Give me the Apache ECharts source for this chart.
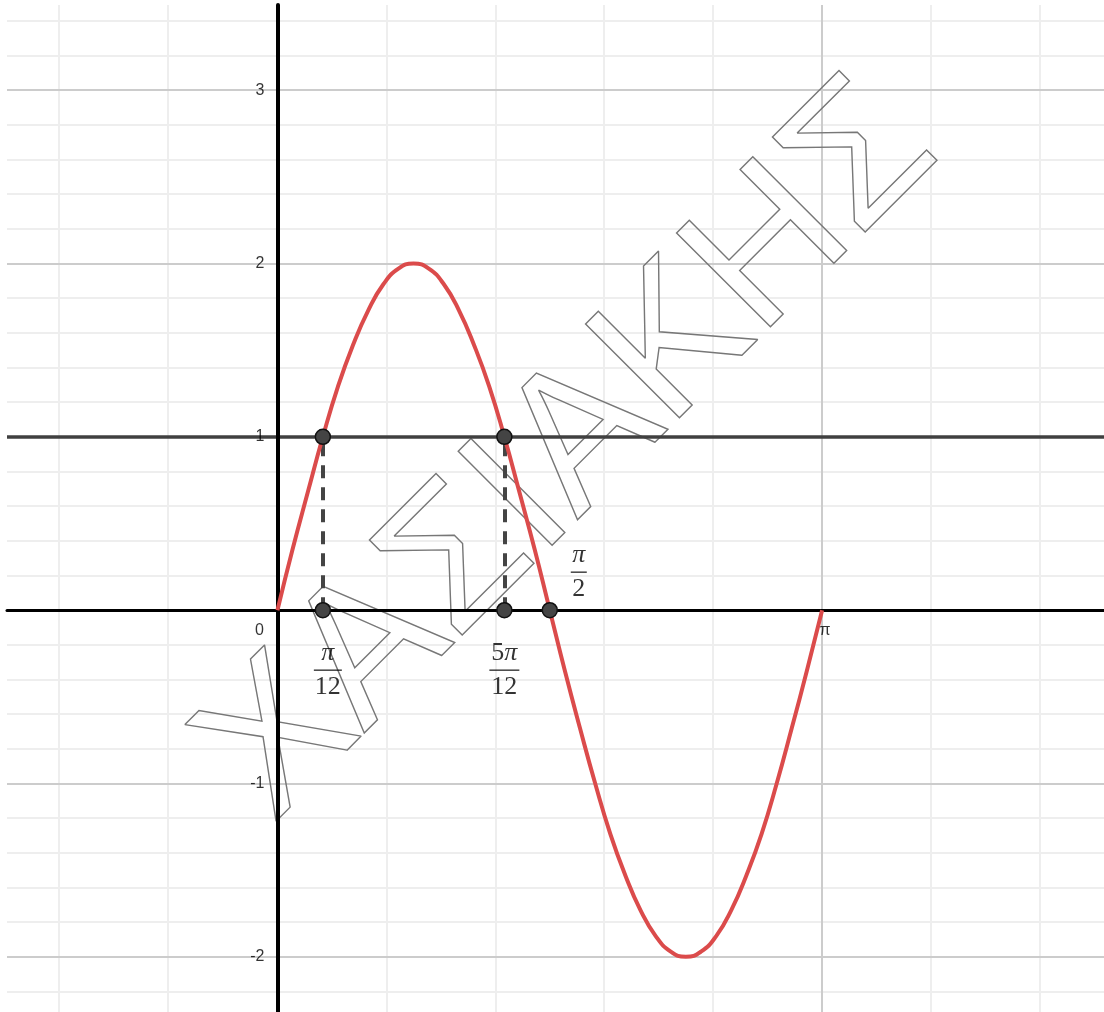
<!DOCTYPE html>
<html>
<head>
<meta charset="utf-8">
<script src="https://cdn.jsdelivr.net/npm/echarts@6/dist/echarts.min.js"></script>
<style>
  html, body { margin: 0; padding: 0; background: #fff; }
  #graph { width: 1104px; height: 1012px; }
</style>
</head>
<body>
<div id="graph"></div>
<script>
// view window of the graph (same scale on both axes)
var xMin = -1.560, xMax = 4.768;
var yMin = -2.318, yMax = 3.491;

// y = 2 sin 2x
var curveX = [0, 0.087, 0.175, 0.262, 0.349, 0.436, 0.524, 0.611, 0.698, 0.785, 0.873, 0.960,
              1.047, 1.134, 1.222, 1.309, 1.396, 1.484, 1.571, 1.658, 1.745, 1.833, 1.920, 2.007,
              2.094, 2.182, 2.269, 2.356, 2.443, 2.531, 2.618, 2.705, 2.793, 2.880, 2.967, 3.054, 3.142];
var curveY = [0, 0.35, 0.68, 1.0, 1.29, 1.53, 1.73, 1.88, 1.97, 2.0, 1.97, 1.88,
              1.73, 1.53, 1.29, 1.0, 0.68, 0.35, 0, -0.35, -0.68, -1.0, -1.29, -1.53,
              -1.73, -1.88, -1.97, -2.0, -1.97, -1.88, -1.73, -1.53, -1.29, -1.0, -0.68, -0.35, 0];

// the horizontal line y = 1
var lineY = 1;

// marked points
var pointX = [0.262, 1.309, 0.262, 1.309, 1.571];
var pointY = [1, 1, 0, 0, 0];

// dashed drop lines
var dropX = [0.262, 1.309];

// fraction labels under / over the axis
var fracX = [0.262, 1.309, 1.571];
var fracNum = ['π', '5π', 'π'];
var fracDen = ['12', '12', '2'];

// tick labels
var yTickValues = [-2, -1, 1, 2, 3];
var yTickNames = ['-2', '-1', '1', '2', '3'];
var xTickValues = [0, 3.1416];
var xTickNames = ['0', 'π'];

// grid lines (x in multiples of pi)
var yMajorGrid = [-2, -1, 1, 2, 3];
var yMinorGrid = [-2.2, -1.8, -1.6, -1.4, -1.2, -0.8, -0.6, -0.4, -0.2, 0.2, 0.4, 0.6, 0.8,
                  1.2, 1.4, 1.6, 1.8, 2.2, 2.4, 2.6, 2.8, 3.2, 3.4];
var xMajorGridPi = [1];
var xMinorGridPi = [-0.4, -0.2, 0.2, 0.4, 0.6, 0.8, 1.2, 1.4];

var watermark = 'ΧΑΣΙΑΚΗΣ';

// label placement (px)
var fracOffsets = [[5, 60], [0, 60], [29, -38]];
var fracBarWidths = [28, 30, 16];
var xTickOffsets = [[-18, 20], [3, 20]];

var myChart = echarts.init(document.getElementById('graph'));

function gridLines(values, scale, axis, color) {
    return values.map(function (v) {
        var d = { lineStyle: { color: color, width: 2, type: 'solid' } };
        d[axis] = v * scale;
        return d;
    });
}

var gridData = []
    .concat(gridLines(yMinorGrid, 1, 'yAxis', '#eeeeee'))
    .concat(gridLines(xMinorGridPi, Math.PI, 'xAxis', '#eeeeee'))
    .concat(gridLines(yMajorGrid, 1, 'yAxis', '#cccccc'))
    .concat(gridLines(xMajorGridPi, Math.PI, 'xAxis', '#cccccc'));

function fracRich(barW) {
    return {
        n: { fontFamily: 'Liberation Serif', fontSize: 26, color: '#000', lineHeight: 30, align: 'center' },
        pi: { fontFamily: 'Liberation Serif', fontStyle: 'italic', fontSize: 26, color: '#000', lineHeight: 30, align: 'center' },
        bar: { width: barW, height: 1.4, backgroundColor: '#000', lineHeight: 4, align: 'center' },
        d: { fontFamily: 'Liberation Serif', fontSize: 26, color: '#000', lineHeight: 30, align: 'center' }
    };
}

var fracData = fracX.map(function (x, i) {
    var top = fracNum[i].replace(/(\d+)/g, '{n|$1}').replace('π', '{pi|π}');
    return {
        value: [x, 0],
        label: {
            offset: fracOffsets[i],
            formatter: top + '\n{bar|}\n{d|' + fracDen[i] + '}',
            rich: fracRich(fracBarWidths[i])
        }
    };
});

var tickFont = { fontSize: 16, fontFamily: 'Liberation Sans', color: '#000' };
var tickData = yTickValues.map(function (v, i) {
    return {
        value: [0, v],
        label: Object.assign({ position: 'left', distance: 13, formatter: yTickNames[i] }, tickFont)
    };
}).concat(xTickValues.map(function (v, i) {
    return {
        value: [v, 0],
        label: Object.assign({
            position: 'inside', align: 'center', verticalAlign: 'middle',
            offset: xTickOffsets[i], formatter: xTickNames[i]
        }, tickFont)
    };
}));

option = {
    animation: false,
    backgroundColor: '#ffffff',
    grid: { left: 7, top: 5, right: 0, bottom: 0, containLabel: false, outerBoundsMode: 'none' },
    graphic: [{
        type: 'text',
        x: 570,
        y: 452,
        rotation: Math.PI / 4,
        z: 1,
        silent: true,
        style: {
            text: watermark,
            fontFamily: 'Liberation Sans',
            fontSize: 193,
            align: 'center',
            verticalAlign: 'middle',
            fill: 'rgba(0,0,0,0)',
            stroke: '#777777',
            lineWidth: 1.4
        }
    }],
    xAxis: {
        type: 'value',
        min: xMin,
        max: xMax,
        z: 3,
        axisLine: { onZero: true, lineStyle: { color: '#000', width: 3 } },
        axisTick: { show: false },
        splitLine: { show: false },
        axisLabel: { show: false }
    },
    yAxis: {
        type: 'value',
        min: yMin,
        max: yMax,
        z: 3,
        axisLine: { onZero: true, lineStyle: { color: '#000', width: 4 } },
        axisTick: { show: false },
        splitLine: { show: false },
        axisLabel: { show: false }
    },
    series: [
        {
            name: 'grid',
            type: 'line',
            data: [],
            z: 0,
            silent: true,
            markLine: { z: 0, silent: true, symbol: 'none', label: { show: false }, data: gridData }
        },
        {
            name: 'y = 1',
            type: 'line',
            data: [],
            z: 3,
            markLine: {
                z: 3,
                silent: true,
                symbol: 'none',
                label: { show: false },
                lineStyle: { color: '#404040', width: 3.5, type: 'solid' },
                data: [{ yAxis: lineY }]
            }
        },
        {
            name: 'drops',
            type: 'line',
            data: [],
            z: 4,
            markLine: {
                z: 4,
                silent: true,
                symbol: 'none',
                label: { show: false },
                lineStyle: { color: '#444444', width: 4, type: [13, 9] },
                data: dropX.map(function (x) {
                    return [{ coord: [x, 0] }, { coord: [x, lineY] }];
                })
            }
        },
        {
            name: 'f(x)',
            type: 'line',
            z: 5,
            smooth: true,
            showSymbol: false,
            lineStyle: { color: '#db4b4b', width: 4 },
            data: curveX.map(function (x, i) { return [x, curveY[i]]; })
        },
        {
            name: 'points',
            type: 'scatter',
            z: 6,
            symbolSize: 15,
            itemStyle: { color: '#444444', borderColor: '#111', borderWidth: 1.5, opacity: 1 },
            data: pointX.map(function (x, i) { return [x, pointY[i]]; })
        },
        {
            name: 'fractions',
            type: 'scatter',
            z: 6,
            symbolSize: 0,
            silent: true,
            label: { show: true, position: 'inside', align: 'center', verticalAlign: 'middle' },
            data: fracData
        },
        {
            name: 'ticks',
            type: 'scatter',
            z: 6,
            symbolSize: 0,
            silent: true,
            label: { show: true },
            data: tickData
        }
    ]
};
myChart.setOption(option);
</script>
</body>
</html>
